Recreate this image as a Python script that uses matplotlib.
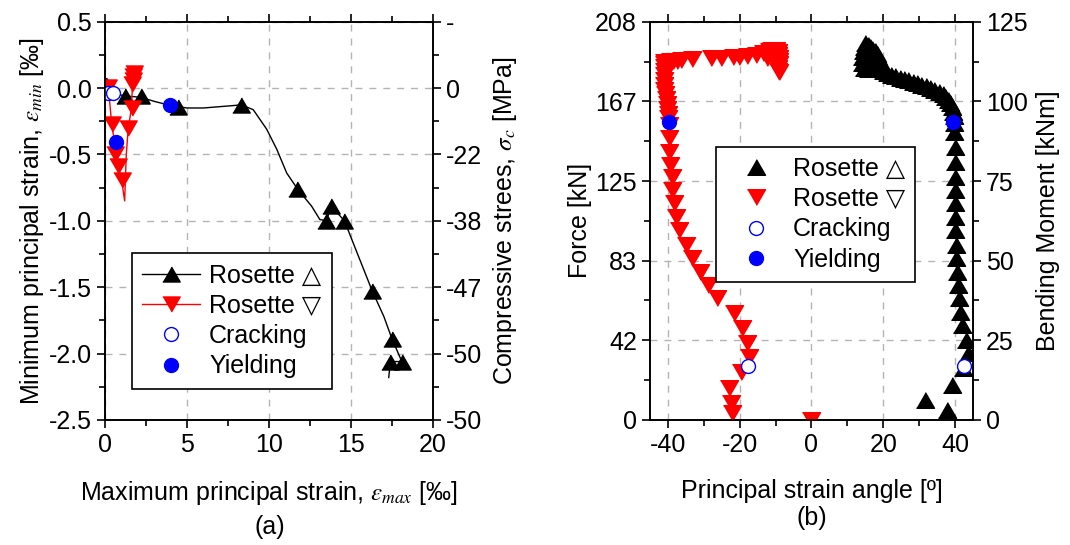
import matplotlib
matplotlib.use('Agg')
import matplotlib.pyplot as plt
from matplotlib.lines import Line2D
from matplotlib.ticker import MultipleLocator, FixedLocator, FormatStrFormatter
import numpy as np

plt.rcParams['font.family'] = ['Liberation Sans', 'DejaVu Sans']
plt.rcParams['mathtext.fontset'] = 'stix'
plt.rcParams['font.size'] = 18
plt.rcParams['axes.unicode_minus'] = False

# ---- (a) principal strains ----
# rosette (up) trace and the logged points on it
up_line_x = [0.0, 0.05, 0.6, 1.22, 1.8, 2.2, 3.0, 3.96, 4.45, 5.0, 6.0, 7.0, 8.0, 8.3,
             9.04, 9.86, 10.47, 11.08, 11.74, 12.6, 13.1, 13.5, 13.8, 14.6, 15.4,
             16.3, 17.0, 17.5, 18.1, 17.4, 17.3]
up_line_y = [0.0, 0.02, -0.04, -0.06, -0.065, -0.07, -0.1, -0.13, -0.14, -0.15, -0.15,
             -0.14, -0.13, -0.125, -0.163, -0.31, -0.46, -0.64, -0.76, -0.89, -0.99,
             -1.0, -0.89, -1.0, -1.25, -1.53, -1.72, -1.89, -2.06, -2.06, -2.18]
up_pts_x = [0.05, 1.22, 2.2, 4.45, 8.3, 11.7, 13.8, 13.5, 14.6, 16.3, 17.5, 17.4, 18.1]
up_pts_y = [0.02, -0.06, -0.06, -0.14, -0.125, -0.76, -0.89, -1.0, -1.0, -1.53, -1.89,
            -2.06, -2.06]

# rosette (down) trace and points
dn_line_x = [0.0, 0.2, 0.41, 0.52, 0.61, 0.81, 1.01, 1.2, 1.3, 1.42, 1.62, 1.68, 1.72]
dn_line_y = [0.0, 0.01, -0.27, -0.36, -0.5, -0.59, -0.69, -0.85, -0.5, -0.3, -0.15,
             0.05, 0.11]
dn_pts_x = [0.2, 0.41, 0.61, 0.81, 1.01, 1.42, 1.62, 1.66, 1.7, 1.73, 1.75]
dn_pts_y = [0.01, -0.27, -0.5, -0.59, -0.69, -0.3, -0.15, 0.03, 0.06, 0.09, 0.11]

crack_a_x = [0.2, 0.5]
crack_a_y = [-0.04, -0.04]
yield_a_x = [0.67, 3.96]
yield_a_y = [-0.405, -0.13]

strain_ticks = [0.5, 0.0, -0.5, -1.0, -1.5, -2.0, -2.5]
stress_labels = ['-', '0', '-22', '-38', '-47', '-50', '-50']

# ---- (b) principal strain angle vs load ----
red_ang = [0.0, -22.1, -22.5, -23.0, -19.7, -17.4, -17.9, -19.3, -21.6, -26.2, -28.8, -31.1,
           -33.4, -35.1, -37.0, -37.9, -38.4, -38.8, -39.0, -39.3, -39.6, -39.7, -39.8,
           -39.9, -40.0, -40.2, -40.4, -40.6, -40.8, -41.0, -41.1, -41.2, -41.2, -41.2,
           -41.2, -41.1, -41.0, -40.5, -39.5, -38.5, -37.5, -36.5,
           -33.2, -28.1, -25.3, -22.0, -20.2, -17.9, -15.5, -13.5,
           -12.5, -12.2, -11.8, -11.3, -10.8, -10.3, -9.8, -9.4, -9.2, -9.1, -9.1, -9.1,
           -9.2, -9.4, -9.0]
red_kn = [0.0, 3.5, 8.7, 16.5, 25.2, 33.0, 40.0, 48.0, 55.7, 63.5, 70.5, 77.5,
          84.4, 91.4, 99.2, 106.2, 113.2, 120.1, 127.0, 133.2, 140.1, 147.1, 154.0,
          157.5, 160.0, 162.5, 165.0, 167.5, 170.0, 172.5, 175.0, 177.5, 180.0, 182.5,
          184.5, 186.0, 187.0, 187.2, 187.3, 187.5, 187.7, 188.0,
          188.4, 188.9, 189.2, 189.6, 189.8, 190.2, 190.6, 191.5,
          189.0, 191.0, 192.5, 193.2, 193.4, 193.4, 193.2, 192.2, 190.5, 189.0, 187.5, 186.0,
          184.0, 182.5, 181.5]

blk_ang = [0.0, 37.7, 31.7, 39.1, 42.2, 43.6, 43.1, 42.0, 41.5, 41.1, 40.8, 40.5, 40.3,
           40.2, 40.1, 40.0, 40.0, 40.0, 39.9, 39.9, 39.9, 39.8, 39.7,
           39.6, 39.4, 39.1, 38.6, 38.0, 37.3, 36.6, 35.4, 34.2, 33.0, 31.8, 30.6,
           29.4, 28.2, 27.0, 25.8, 24.6, 23.4, 22.2, 21.0, 20.0, 19.5,
           19.2, 18.9, 18.6, 18.2, 17.6, 16.9, 16.3, 15.7, 15.0, 14.6, 14.3, 14.1,
           14.0, 14.7, 15.7, 16.7, 17.7, 18.7, 16.2, 17.2, 15.2]
blk_kn = [0.0, 5.2, 10.4, 18.3, 27.0, 34.8, 41.8, 49.6, 56.6, 63.5, 70.5, 77.4, 84.4,
          91.4, 99.2, 106.2, 113.2, 120.1, 127.1, 134.9, 142.7, 150.5, 155.0,
          158.5, 161.0, 163.5, 165.5, 167.3, 168.7, 170.0, 171.3, 172.4, 173.4, 174.3,
          175.1, 175.9, 176.6, 177.3, 178.0, 178.7, 179.4, 180.2, 181.0, 182.0, 183.5,
          185.5, 187.5, 189.5, 191.0, 192.5, 193.8, 194.8, 195.8, 196.8, 195.0, 192.5,
          189.5, 186.5, 184.0, 183.5, 183.8, 184.5, 185.5, 188.0, 190.0, 187.0]

crack_b_ang = [-17.6, 42.4]
crack_b_kn = [28.2, 28.2]
yield_b_ang = [-39.8, 39.4]
yield_b_kn = [155.8, 155.8]

force_ticks = [0, 41.6, 83.2, 124.8, 166.4, 208]
force_labels = ['0', '42', '83', '125', '167', '208']
moment_ticks = [0, 25, 50, 75, 100, 125]

# equilateral triangles, pointing up and down
tri_up = [(-1, -0.866), (1, -0.866), (0, 0.866)]
tri_dn = [(-1, 0.866), (1, 0.866), (0, -0.866)]

fig = plt.figure(figsize=(10.7, 5.45), dpi=100)
ax1 = fig.add_axes([0.0981, 0.2294, 0.3066, 0.7308])
ax2 = fig.add_axes([0.6075, 0.2294, 0.3018, 0.7308])

ms_a = 12.5
ms_b = 13
ms_dot = 10

# (a)
ax1.plot(up_line_x, up_line_y, '-', color='k', lw=1, zorder=3)
ax1.plot(up_pts_x, up_pts_y, marker=tri_up, color='k', ms=ms_a, ls='none', zorder=3)
ax1.plot(dn_line_x, dn_line_y, '-', color='red', lw=1, zorder=4)
ax1.plot(dn_pts_x, dn_pts_y, marker=tri_dn, color='red', ms=ms_a, ls='none', zorder=4)
ax1.plot(crack_a_x, crack_a_y, 'o', mfc='white', mec='blue', ms=ms_dot, ls='none', zorder=5)
ax1.plot(yield_a_x, yield_a_y, 'o', color='blue', ms=ms_dot, ls='none', zorder=5)

ax1.set_xlim(0, 20)
ax1.set_ylim(-2.5, 0.5)
ax1.xaxis.set_major_locator(MultipleLocator(5))
ax1.xaxis.set_minor_locator(MultipleLocator(2.5))
ax1.yaxis.set_major_locator(MultipleLocator(0.5))
ax1.yaxis.set_minor_locator(MultipleLocator(0.25))
ax1.yaxis.set_major_formatter(FormatStrFormatter('%.1f'))
ax1.grid(True, which='major', color='#b4b4b4', ls=(0, (5, 5)), lw=1)
ax1.set_axisbelow(True)
ax1.set_xlabel(r'Maximum principal strain, $\varepsilon_{max}$ [‰]', labelpad=16)
ax1.set_ylabel(r'Minimum principal strain, $\varepsilon_{min}$ [‰]', labelpad=2)

ax1r = ax1.twinx()
ax1r.set_ylim(-2.5, 0.5)
ax1r.yaxis.set_major_locator(FixedLocator(strain_ticks))
ax1r.yaxis.set_minor_locator(MultipleLocator(0.25))
ax1r.set_yticklabels(stress_labels)
ax1r.set_ylabel(r'Compressive strees, $\sigma_c$ [MPa]', labelpad=6)

leg_labels = ['Rosette △', 'Rosette ▽', 'Cracking', 'Yielding']
leg_handles = [
    Line2D([], [], color='k', marker=tri_up, ms=ms_a, lw=1),
    Line2D([], [], color='red', marker=tri_dn, ms=ms_a, lw=1),
    Line2D([], [], ls='none', marker='o', mfc='white', mec='blue', ms=ms_dot),
    Line2D([], [], ls='none', marker='o', color='blue', ms=ms_dot),
]
leg1 = ax1.legend(leg_handles, leg_labels, loc='upper left', bbox_to_anchor=(0.082, 0.419),
                  borderaxespad=0, frameon=True, fancybox=False, framealpha=1,
                  edgecolor='k', handlelength=2.3, handletextpad=0.37,
                  labelspacing=0.25, borderpad=0.42)
leg1.get_frame().set_linewidth(1.2)

# (b)
ax2.plot(blk_ang, blk_kn, marker=tri_up, color='k', ms=ms_b, ls='none', zorder=3)
ax2.plot(red_ang, red_kn, marker=tri_dn, color='red', ms=ms_b, ls='none', zorder=4)
ax2.plot(crack_b_ang, crack_b_kn, 'o', mfc='white', mec='blue', ms=ms_dot, ls='none', zorder=5)
ax2.plot(yield_b_ang, yield_b_kn, 'o', color='blue', ms=ms_dot, ls='none', zorder=5)

ax2.set_xlim(-45, 45)
ax2.set_ylim(0, 208)
ax2.xaxis.set_major_locator(MultipleLocator(20))
ax2.xaxis.set_minor_locator(MultipleLocator(10))
ax2.yaxis.set_major_locator(FixedLocator(force_ticks))
ax2.yaxis.set_minor_locator(MultipleLocator(20.8))
ax2.set_yticklabels(force_labels)
ax2.grid(True, which='major', color='#b4b4b4', ls=(0, (5, 5)), lw=1)
ax2.set_axisbelow(True)
ax2.set_xlabel('Principal strain angle [º]', labelpad=16)
ax2.set_ylabel('Force [kN]', labelpad=2)

ax2r = ax2.twinx()
ax2r.set_ylim(0, 125)
ax2r.yaxis.set_major_locator(FixedLocator(moment_ticks))
ax2r.yaxis.set_minor_locator(MultipleLocator(12.5))
ax2r.set_ylabel('Bending Moment [kNm]', labelpad=6)

leg_handles_b = [
    Line2D([], [], ls='none', color='k', marker=tri_up, ms=ms_b),
    Line2D([], [], ls='none', color='red', marker=tri_dn, ms=ms_b),
    Line2D([], [], ls='none', marker='o', mfc='white', mec='blue', ms=ms_dot),
    Line2D([], [], ls='none', marker='o', color='blue', ms=ms_dot),
]
leg2 = ax2.legend(leg_handles_b, leg_labels, loc='upper left', bbox_to_anchor=(0.203, 0.686),
                  borderaxespad=0, frameon=True, fancybox=False, framealpha=1,
                  edgecolor='k', handlelength=2.4, handletextpad=0.3,
                  labelspacing=0.25, borderpad=0.4)
leg2.get_frame().set_linewidth(1.2)

for ax in (ax1, ax2, ax1r, ax2r):
    for sp in ax.spines.values():
        sp.set_linewidth(1.2)
    ax.tick_params(which='major', direction='out', length=6, width=1.2)
    ax.tick_params(which='minor', direction='out', length=4, width=1.2)
for ax in (ax1, ax2):
    ax.tick_params(which='both', top=True, labeltop=False)

fig.text(270 / 1070, 1 - 527 / 545, '(a)', ha='center', va='center')
fig.text(812 / 1070, 1 - 518 / 545, '(b)', ha='center', va='center')

fig.savefig('out.png', dpi=100)
